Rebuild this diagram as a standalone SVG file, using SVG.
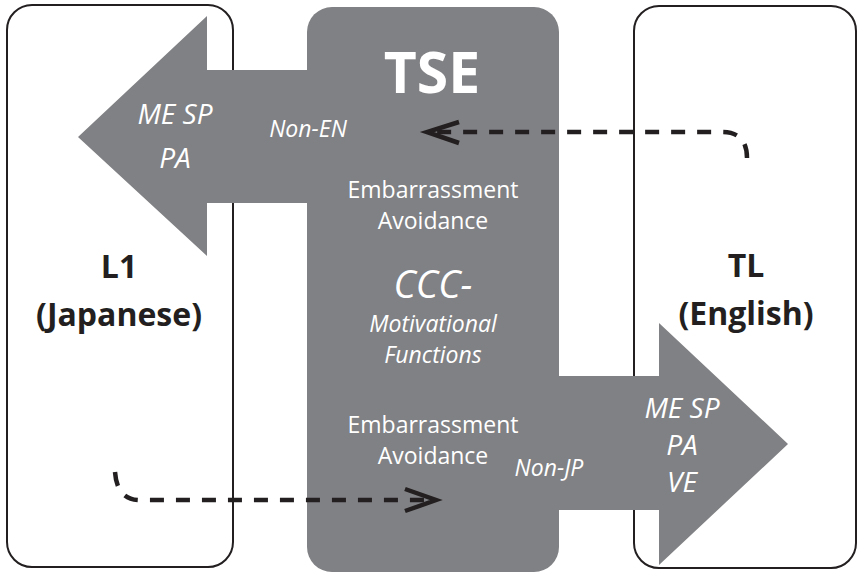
<svg xmlns="http://www.w3.org/2000/svg" width="858" height="572" viewBox="0 0 858 572">
<style>
.box{fill:#ffffff;stroke:#231f20;stroke-width:2}
.gray{fill:#808184}
.lbl{font-family:"Open Sans","Noto Sans",sans-serif;font-weight:bold;fill:#231f20;text-anchor:middle;font-size:32px}
.w{font-family:"Open Sans","Noto Sans",sans-serif;fill:#ffffff;text-anchor:middle}
.it{font-style:italic}
.dash{fill:none;stroke:#231f20;stroke-width:4.5;stroke-dasharray:14 12}
.head{fill:none;stroke:#231f20;stroke-width:4.5}
</style>
<rect width="858" height="572" fill="#ffffff"/>
<g id="l1-box">
<rect class="box" x="7" y="5" width="226" height="562" rx="25"/>
<text class="lbl" x="119" y="278">L1</text>
<text class="lbl" x="119" y="326">(Japanese)</text>
</g>
<g id="tl-box">
<rect class="box" x="634" y="6" width="222" height="562" rx="25"/>
<text class="lbl" x="746" y="277">TL</text>
<text class="lbl" x="746" y="325">(English)</text>
</g>
<g id="tse">
<rect class="gray" x="307" y="7" width="252" height="565" rx="25"/>
<polygon class="gray" points="310,70 207,70 207,16 78,137 207,256 207,203 310,203"/>
<polygon class="gray" points="556,376 659,376 659,323 788,444 659,565 659,510 556,510"/>
<text class="w" x="432" y="93" font-size="57" font-weight="bold">TSE</text>
<text class="w it" x="175" y="124" font-size="28">ME SP</text>
<text class="w it" x="175" y="168" font-size="28">PA</text>
<text class="w it" x="308" y="137" font-size="23">Non-EN</text>
<text class="w" x="433" y="198" font-size="23">Embarrassment</text>
<text class="w" x="433" y="229" font-size="23">Avoidance</text>
<text class="w it" x="433" y="298" font-size="38">CCC-</text>
<text class="w it" x="433" y="332" font-size="23">Motivational</text>
<text class="w it" x="433" y="363" font-size="23">Functions</text>
<text class="w" x="433" y="433" font-size="23">Embarrassment</text>
<text class="w" x="433" y="464" font-size="23">Avoidance</text>
<text class="w it" x="549" y="476" font-size="23">Non-JP</text>
<text class="w it" x="682" y="418" font-size="28">ME SP</text>
<text class="w it" x="682" y="455" font-size="28">PA</text>
<text class="w it" x="682" y="492" font-size="28">VE</text>
</g>
<g id="connectors">
<path class="dash" d="M 747,158 Q 747,132 722,132 L 432,132"/>
<polyline class="head" points="459,122 427,132 459,143"/>
<path class="dash" d="M 115,472 Q 117,500 140,500 L 430,500"/>
<polyline class="head" points="405,489 436,500 405,511"/>
</g>
</svg>
